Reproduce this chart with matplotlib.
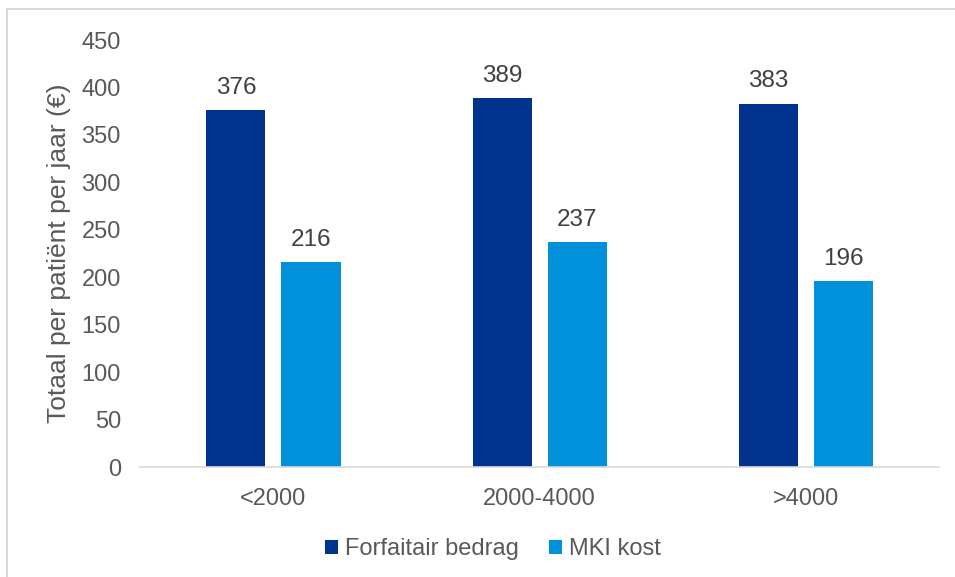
import matplotlib.pyplot as plt
import numpy as np
from matplotlib.patches import Rectangle

plt.rcParams['font.family'] = ['Liberation Sans', 'DejaVu Sans']

categories = ["<2000", "2000-4000", ">4000"]
forfaitair = [376, 389, 383]
mki = [216, 237, 196]
series_names = ["Forfaitair bedrag", "MKI kost"]

darkBlue = '#00338D'
lightBlue = '#0091DA'
textGray = '#595959'

fig = plt.figure(figsize=(9.55, 5.77), dpi=100)
ax = fig.add_axes([0.147, 0.1906, 0.836, 0.74])

# light chart-area frame (only left and top edges show)
fig.patches.append(Rectangle((0.0073, -0.1), 1.1, 1.0844, transform=fig.transFigure,
                             facecolor='none', edgecolor='#d9d9d9', linewidth=1.5))

x = np.arange(len(categories))
w = 0.222
off = 0.141
b1 = ax.bar(x - off, forfaitair, w, color=darkBlue, label=series_names[0])
b2 = ax.bar(x + off, mki, w, color=lightBlue, label=series_names[1])

for bars in (b1, b2):
    for rect in bars:
        h = rect.get_height()
        ax.text(rect.get_x() + rect.get_width() / 2, h + 12, f"{h:.0f}",
                ha='center', va='bottom', fontsize=17.5, color='#404040')

ax.set_xlim(-0.5, 2.5)
ax.set_ylim(0, 450)
ax.set_yticks(range(0, 451, 50))
ax.set_xticks(x)
ax.set_xticklabels(categories)
ax.tick_params(axis='both', length=0, labelsize=17, colors=textGray)
ax.tick_params(axis='x', pad=15)
ax.tick_params(axis='y', pad=14)

for s in ('top', 'right', 'left'):
    ax.spines[s].set_visible(False)
ax.spines['bottom'].set_color('#d9d9d9')
ax.spines['bottom'].set_linewidth(1.2)

ax.set_ylabel("Totaal per patiënt per jaar (€)", fontsize=19, color=textGray)
ax.yaxis.set_label_coords(-0.087, 0.5)

fig.legend(handles=[b1, b2], labels=series_names, loc='center', bbox_to_anchor=(0.516, 0.0485),
           ncol=2, frameon=False, fontsize=17, labelcolor=textGray,
           handlelength=0.55, handleheight=0.55, handletextpad=0.3, columnspacing=1.25)

fig.savefig('out.png', dpi=100)
